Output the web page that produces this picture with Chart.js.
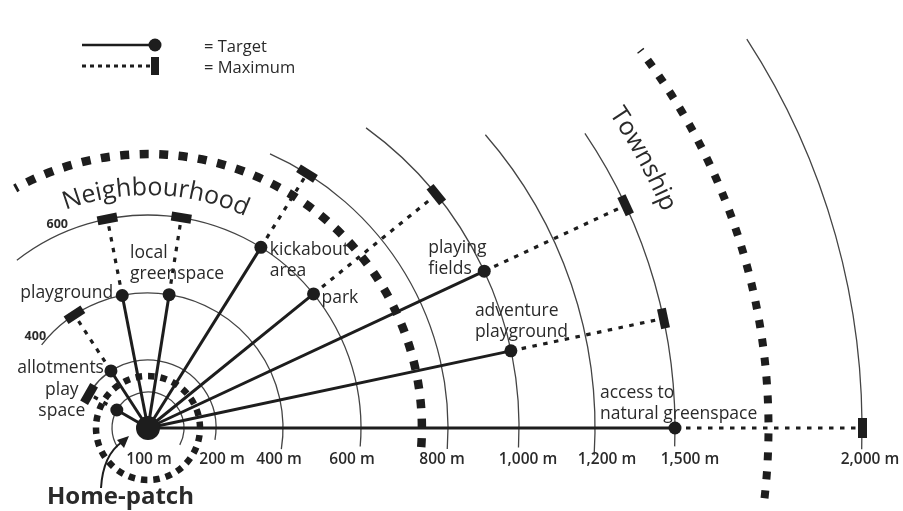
<!DOCTYPE html>
<html>
<head>
<meta charset="utf-8">
<script src="https://cdn.jsdelivr.net/npm/chart.js@4.4.1/dist/chart.umd.min.js"></script>
<style>
  html, body { margin: 0; padding: 0; background: #fff; }
  #wrap { width: 903px; height: 511px; position: relative; }
</style>
</head>
<body>
<div id="wrap"><canvas id="reachChart"></canvas></div>
<script>
// ===== DATA =====
const ringMetres = [100, 200, 400, 600, 800, 1000, 1200, 1500, 2000];
const ringLabels = ["100 m", "200 m", "400 m", "600 m", "800 m", "1,000 m", "1,200 m", "1,500 m", "2,000 m"];
const sideTickMetres = [400, 600];

const facilities = ["play\nspace", "allotments", "playground", "local\ngreenspace", "kickabout\narea",
    "park", "playing\nfields", "adventure\nplayground", "access to\nnatural greenspace"];
const bearings = [150, 123, 101, 81, 58, 39, 25, 12, 0];              // degrees up from the baseline
const targetMetres = [100, 200, 400, 400, 600, 600, 1000, 1000, 1500];
const maximumMetres = [200, 400, 600, 600, 800, 1000, 1500, 1500, 2000];

const zoneNames = ["Home-patch", "Neighbourhood", "Township"];
const zoneMetres = [150, 740, 1750];

// ===== STYLE =====
const INK = "#1d1d1d";
const FONT = "'Open Sans', sans-serif";
const toRad = d => d * Math.PI / 180;

// radial scale of the drawing (rings are not evenly spaced)
const ringRadius = [36, 68, 135, 213, 300, 371, 447, 527, 714];
const ringFrom = [-28, -10, -9, -5, -4, -3, -3.5, -2, -1.7];
const ringTo = [212, 155, 142, 128, 66, 54, 41, 34, 33];
const ringLabelShift = [-35, 6, -4, -9, -6, 9, 12, 15, 8];
const sideTickAngle = [141, 114];

const zoneFrom = [0, -4, -6.5];
const zoneTo = [360, 119, 37.5];
const zoneWidth = [6.5, 8.5, 8];
const zoneDash = [[6.5, 6], [9, 10.5], [8, 11]];

// label anchor relative to the target dot
const labelStyle = [
    { dx: -55, dy: -20, align: "center" },
    { dx: -7, dy: -3, align: "right" },
    { dx: -9, dy: -2, align: "right" },
    { dx: -39, dy: -42, align: "left" },
    { dx: 9, dy: 3, align: "left" },
    { dx: 8, dy: 4, align: "left" },
    { dx: -56, dy: -23, align: "left" },
    { dx: -36, dy: -40, align: "left" },
    { dx: -75, dy: -35, align: "left" }
];

// ===== SCALE HELPERS =====
function reach(m) {
    if (m <= ringMetres[0]) return m / ringMetres[0] * ringRadius[0];
    for (let i = 1; i < ringMetres.length; i++) {
        if (m <= ringMetres[i]) {
            const t = (m - ringMetres[i - 1]) / (ringMetres[i] - ringMetres[i - 1]);
            return ringRadius[i - 1] + t * (ringRadius[i] - ringRadius[i - 1]);
        }
    }
    return ringRadius[ringRadius.length - 1];
}

function polar(m, deg) {
    const r = reach(m);
    return { x: r * Math.cos(toRad(deg)), y: r * Math.sin(toRad(deg)) };
}

function barMarker() {
    const c = document.createElement("canvas");
    c.width = 9;
    c.height = 20;
    const g = c.getContext("2d");
    g.fillStyle = INK;
    g.fillRect(0, 0, 9, 20);
    return c;
}

function centre(chart) {
    const { x, y } = chart.scales;
    const cx = x.getPixelForValue(0);
    const cy = y.getPixelForValue(0);
    return { cx, cy, unit: x.getPixelForValue(1) - cx };
}

function textOnArc(ctx, text, cx, cy, r, midDeg) {
    const total = ctx.measureText(text).width;
    let a = toRad(midDeg) + total / (2 * r);
    ctx.textAlign = "center";
    ctx.textBaseline = "alphabetic";
    for (const ch of text) {
        const w = ctx.measureText(ch).width;
        const am = a - w / (2 * r);
        ctx.save();
        ctx.translate(cx + r * Math.cos(am), cy - r * Math.sin(am));
        ctx.rotate(Math.PI / 2 - am);
        ctx.fillText(ch, 0, 0);
        ctx.restore();
        a -= w / r;
    }
}

// ===== RINGS + ZONES (under the spokes) =====
const ringPlugin = {
    id: "rings",
    beforeDatasetsDraw(chart) {
        const ctx = chart.ctx;
        const { cx, cy, unit } = centre(chart);
        ctx.save();
        ctx.strokeStyle = "#444";
        ctx.lineWidth = 1.3;
        ringMetres.forEach((m, i) => {
            ctx.beginPath();
            ctx.arc(cx, cy, reach(m) * unit, toRad(-ringFrom[i]), toRad(-ringTo[i]), true);
            ctx.stroke();
        });
        ctx.strokeStyle = INK;
        zoneMetres.forEach((m, i) => {
            ctx.lineWidth = zoneWidth[i];
            ctx.setLineDash(zoneDash[i]);
            ctx.beginPath();
            ctx.arc(cx, cy, reach(m) * unit, toRad(-zoneFrom[i]), toRad(-zoneTo[i]), true);
            ctx.stroke();
        });
        ctx.restore();
    }
};

// ===== TEXT, LEGEND =====
const textPlugin = {
    id: "texts",
    afterDatasetsDraw(chart) {
        const ctx = chart.ctx;
        const { cx, cy, unit } = centre(chart);
        const dots = chart.getDatasetMeta(0).data;
        ctx.save();
        ctx.fillStyle = "#2a2a2a";

        // facility labels
        ctx.font = "17.5px " + FONT;
        ctx.textBaseline = "middle";
        facilities.forEach((name, i) => {
            const s = labelStyle[i];
            ctx.textAlign = s.align;
            name.split("\n").forEach((line, k) => {
                ctx.fillText(line, dots[i].x + s.dx, dots[i].y + s.dy + k * 21);
            });
        });

        // distance labels along the baseline
        ctx.font = "600 15.5px " + FONT;
        ctx.textAlign = "center";
        ringMetres.forEach((m, i) => {
            ctx.fillText(ringLabels[i], cx + reach(m) * unit + ringLabelShift[i], cy + 32);
        });

        // ring values on the left side
        ctx.font = "700 12.5px " + FONT;
        sideTickMetres.forEach((m, i) => {
            const r = (reach(m) + 10) * unit;
            const a = toRad(sideTickAngle[i]);
            ctx.fillText(String(m), cx + r * Math.cos(a), cy - r * Math.sin(a));
        });

        // zone names
        ctx.font = "25px " + FONT;
        textOnArc(ctx, zoneNames[1], cx, cy, 233 * unit, 88);
        ctx.font = "25px " + FONT;
        textOnArc(ctx, zoneNames[2], cx, cy, 558 * unit, 28.5);

        ctx.font = "700 24px " + FONT;
        ctx.textAlign = "left";
        ctx.textBaseline = "middle";
        ctx.fillText(zoneNames[0], 47, 497);

        // home-patch arrow
        ctx.strokeStyle = INK;
        ctx.fillStyle = INK;
        ctx.lineWidth = 2;
        ctx.beginPath();
        ctx.moveTo(101, 488);
        ctx.quadraticCurveTo(103, 455, 122, 442);
        ctx.stroke();
        ctx.beginPath();
        ctx.moveTo(129, 436);
        ctx.lineTo(117, 440);
        ctx.lineTo(124, 448);
        ctx.closePath();
        ctx.fill();

        // legend
        ctx.lineWidth = 2.5;
        ctx.beginPath();
        ctx.moveTo(82, 45);
        ctx.lineTo(150, 45);
        ctx.stroke();
        ctx.beginPath();
        ctx.arc(155, 45, 6.5, 0, Math.PI * 2);
        ctx.fill();
        ctx.lineWidth = 3;
        ctx.setLineDash([4, 4]);
        ctx.beginPath();
        ctx.moveTo(82, 66);
        ctx.lineTo(150, 66);
        ctx.stroke();
        ctx.setLineDash([]);
        ctx.fillRect(151, 57, 8, 18);
        ctx.fillStyle = "#2a2a2a";
        ctx.font = "16.5px " + FONT;
        ctx.textAlign = "left";
        ctx.fillText("= Target", 204, 47);
        ctx.fillText("= Maximum", 204, 68);
        ctx.restore();
    }
};

// ===== CHART =====
const targets = facilities.map((_, i) => polar(targetMetres[i], bearings[i]));
const maxima = facilities.map((_, i) => polar(maximumMetres[i], bearings[i]));
const bar = barMarker();

const datasets = [
    {
        label: "Target",
        data: targets,
        pointRadius: 6.5,
        pointBackgroundColor: INK,
        pointBorderWidth: 0
    },
    {
        label: "Maximum",
        data: maxima,
        pointStyle: bar,
        pointRadius: 6,
        rotation: bearings.map(b => -b)
    },
    {
        label: "Home",
        data: [{ x: 0, y: 0 }],
        pointRadius: 12,
        pointBackgroundColor: INK,
        pointBorderWidth: 0
    }
];

facilities.forEach((_, i) => {
    datasets.push({
        data: [{ x: 0, y: 0 }, targets[i]],
        showLine: true,
        borderColor: INK,
        borderWidth: 3,
        pointRadius: 0
    });
    datasets.push({
        data: [targets[i], maxima[i]],
        showLine: true,
        borderColor: INK,
        borderWidth: 3.2,
        borderDash: [4.5, 6.5],
        pointRadius: 0
    });
});

new Chart(document.getElementById("reachChart"), {
    type: "scatter",
    data: { datasets: datasets },
    options: {
        responsive: true,
        maintainAspectRatio: false,
        animation: false,
        events: [],
        layout: { padding: 0, autoPadding: false },
        plugins: {
            legend: { display: false },
            tooltip: { enabled: false }
        },
        scales: {
            x: { type: "linear", min: -148, max: 755, display: false },
            y: { type: "linear", min: -83, max: 428, display: false }
        }
    },
    plugins: [ringPlugin, textPlugin]
});
</script>
</body>
</html>
